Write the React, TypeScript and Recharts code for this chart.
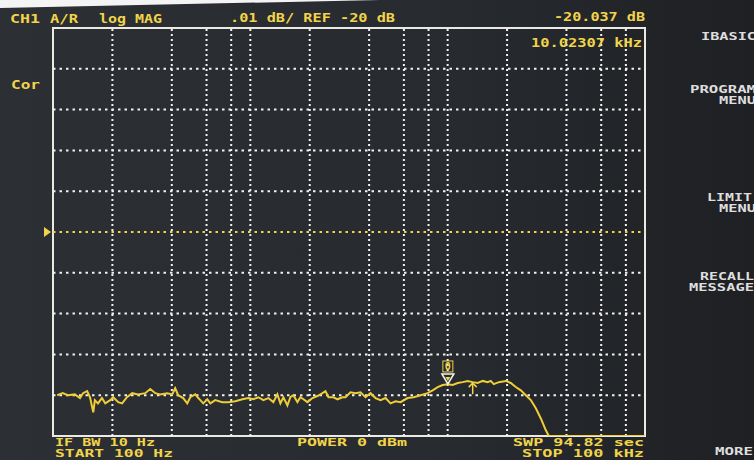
import React from 'react';
import { LineChart, Line, XAxis, YAxis, ReferenceLine, ReferenceDot, ReferenceArea } from 'recharts';

// sweep 100 Hz .. 100 kHz, log MAG, .01 dB/div, REF -20 dB
const freqHz = [
  105, 112, 119, 129, 137, 142, 149, 154, 160, 163, 169, 177, 184, 195, 202, 214, 224, 237, 252, 270,
  293, 311, 330, 349, 379, 402, 416, 431, 457, 479, 496, 526, 545, 558, 577, 605, 627, 664, 721, 773,
  839, 911, 977, 1036, 1098, 1164, 1234, 1308, 1371, 1420, 1471, 1541, 1596, 1653, 1732, 1794, 1858, 1947, 2064, 2188,
  2320, 2403, 2489, 2638, 2764, 2931, 3036, 3218, 3412, 3617, 3834, 4065, 4310, 4569, 4844, 5135, 5445, 5772, 6266, 6722,
  7294, 7915, 8394, 8898, 9432, 10000, 10602, 11238, 11915, 12630, 13393, 14197, 15056, 15959, 16531, 17122, 18153, 19703, 20883, 22138,
  23476, 24889, 26383, 27975, 29661, 31443, 32563, 100000,
];
const traceDb = [
  -20.04, -20.0395, -20.04, -20.0398, -20.0407, -20.0395, -20.039, -20.0405, -20.0442, -20.0412,
  -20.042, -20.0407, -20.042, -20.0412, -20.0405, -20.0417, -20.042, -20.0405, -20.0395, -20.0398,
  -20.0395, -20.0385, -20.0395, -20.0398, -20.0395, -20.0398, -20.0383, -20.04, -20.0407, -20.042,
  -20.0405, -20.0398, -20.0407, -20.0412, -20.042, -20.041, -20.042, -20.0412, -20.0417, -20.0417,
  -20.0415, -20.041, -20.0407, -20.041, -20.0405, -20.0412, -20.0407, -20.0417, -20.0398, -20.042,
  -20.0405, -20.0425, -20.0405, -20.04, -20.0417, -20.0405, -20.041, -20.0417, -20.0407, -20.0402,
  -20.0395, -20.039, -20.0405, -20.0405, -20.041, -20.0405, -20.0405, -20.0393, -20.0395, -20.0393,
  -20.0405, -20.0395, -20.0407, -20.0412, -20.0407, -20.042, -20.0415, -20.0417, -20.0407, -20.0405,
  -20.04, -20.0395, -20.0388, -20.038, -20.0375, -20.0373, -20.0375, -20.037, -20.0368, -20.0365,
  -20.0368, -20.037, -20.0365, -20.0368, -20.0365, -20.0373, -20.0368, -20.0365, -20.037, -20.038,
  -20.0388, -20.04, -20.0412, -20.0432, -20.0457, -20.0486, -20.05, -20.05,
];

const vGridHz = [200, 400, 600, 800, 1000, 2000, 4000, 6000, 8000, 10000, 20000, 40000, 60000, 80000];
const hGridDb = [-19.96, -19.97, -19.98, -19.99, -20.01, -20.02, -20.03, -20.04];
const refDb = -20;
const markerHz = 10023.07;
const markerDb = -20.037;
const arrowHz = 13393;
const arrowDb = -20.0368;

const data = freqHz.map((f, i) => ({ f, db: traceDb[i] }));

const YEL = '#f1d449';
const DOT = '#f2f2ee';
const KEY = '#dedede';
const FONT = '"DejaVu Sans Mono", monospace';

const MarkerShape = (props: any) => {
  const { cx, cy } = props;
  return (
    <g>
      <rect x={cx - 5} y={cy - 22} width={10} height={11} fill="none" stroke={YEL} strokeWidth={1} />
      <text x={cx} y={cy - 13} textAnchor="middle" fontFamily={FONT} fontWeight="bold" fontSize={10} fill={YEL}>
        0
      </text>
      <polygon points={`${cx - 6},${cy - 9} ${cx + 6},${cy - 9} ${cx},${cy + 1}`} fill="#2a2c2e" stroke={DOT} strokeWidth={1.5} />
      <polygon points={`${cx - 2.5},${cy - 6} ${cx + 2.5},${cy - 6} ${cx},${cy - 2}`} fill={YEL} />
    </g>
  );
};

const ArrowShape = (props: any) => {
  const { cx, cy } = props;
  return (
    <g stroke={YEL} strokeWidth={1.5} fill="none">
      <line x1={cx} y1={cy + 1} x2={cx} y2={cy + 12} />
      <polyline points={`${cx - 4},${cy + 5} ${cx},${cy + 1} ${cx + 4},${cy + 5}`} />
    </g>
  );
};

const RefTriangle = (props: any) => {
  const { cx, cy } = props;
  return <polygon points={`${cx - 9},${cy - 5} ${cx - 9},${cy + 5} ${cx - 2},${cy}`} fill={YEL} />;
};

const T = ({ x, y, w, s = 13, c = YEL, a = 'start', children }: any) => (
  <text
    x={x}
    y={y}
    textLength={w}
    lengthAdjust="spacingAndGlyphs"
    textAnchor={a}
    fontFamily={FONT}
    fontWeight="bold"
    fontSize={s}
    fill={c}
  >
    {children}
  </text>
);

export default function App() {
  return (
    <div
      style={{
        position: 'fixed',
        left: 0,
        top: 0,
        width: 754,
        height: 460,
        background: 'linear-gradient(90deg, #2c2f34 0%, #272a2f 60%, #1e2023 100%)',
        overflow: 'hidden',
      }}
    >
      <LineChart width={754} height={460} data={data} margin={{ top: 28, right: 109, bottom: 24, left: 53 }}>
        <XAxis dataKey="f" type="number" scale="log" domain={[100, 100000]} allowDataOverflow hide />
        <YAxis type="number" domain={[-20.05, -19.95]} allowDataOverflow hide />
        {vGridHz.map((f) => (
          <ReferenceLine key={`v${f}`} x={f} stroke={DOT} strokeWidth={2} strokeDasharray="2 3" />
        ))}
        {hGridDb.map((d) => (
          <ReferenceLine key={`h${d}`} y={d} stroke={DOT} strokeWidth={2} strokeDasharray="2.5 4" />
        ))}
        <ReferenceLine y={refDb} stroke={YEL} strokeWidth={2} strokeDasharray="2.5 4" />
        <ReferenceArea
          x1={100}
          x2={100000}
          y1={-20.05}
          y2={-19.95}
          fill="none"
          fillOpacity={0}
          stroke="#ebeae2"
          strokeWidth={2}
          ifOverflow="visible"
        />
        <Line
          dataKey="db"
          type="linear"
          stroke="#efcd36"
          strokeWidth={2}
          dot={false}
          isAnimationActive={false}
        />
        <ReferenceDot x={100} y={refDb} r={5} shape={RefTriangle} ifOverflow="visible" />
        <ReferenceDot x={markerHz} y={markerDb} r={5} shape={MarkerShape} ifOverflow="visible" />
        <ReferenceDot x={arrowHz} y={arrowDb} r={5} shape={ArrowShape} ifOverflow="visible" />
      </LineChart>
      <svg width={754} height={460} style={{ position: 'absolute', left: 0, top: 0, pointerEvents: 'none' }}>
        <polygon points="0,0 380,0 0,8" fill="#f4f4f4" />
        <T x={10} y={23} w={30}>CH1</T>
        <T x={50} y={23} w={28}>A/R</T>
        <T x={99} y={23} w={63}>log MAG</T>
        <T x={230} y={22} w={165}>.01 dB/ REF -20 dB</T>
        <T x={554} y={21} w={91}>-20.037 dB</T>
        <T x={531} y={47} w={111}>10.02307 kHz</T>
        <T x={11} y={89} w={29} s={12}>Cor</T>

        <T x={55} y={446} w={100} s={10}>IF BW 10 Hz</T>
        <T x={55} y={457} w={118} s={10}>START  100 Hz</T>
        <T x={297} y={446} w={110} s={10}>POWER  0 dBm</T>
        <T x={513} y={446} w={131} s={10}>SWP  94.82  sec</T>
        <T x={522} y={457} w={122} s={10}>STOP  100 kHz</T>

        <T x={756} y={40} w={55} s={11} c={KEY} a="end">IBASIC</T>
        <T x={756} y={93} w={66} s={10} c={KEY} a="end">PROGRAM</T>
        <T x={756} y={104} w={37} s={10} c={KEY} a="end">MENU</T>
        <T x={752} y={201} w={45} s={10} c={KEY} a="end">LIMIT</T>
        <T x={756} y={212} w={37} s={10} c={KEY} a="end">MENU</T>
        <T x={754} y={280} w={54} s={10} c={KEY} a="end">RECALL</T>
        <T x={754} y={291} w={65} s={10} c={KEY} a="end">MESSAGE</T>
        <T x={753} y={455} w={38} s={11} c={KEY} a="end">MORE</T>
      </svg>
    </div>
  );
}
